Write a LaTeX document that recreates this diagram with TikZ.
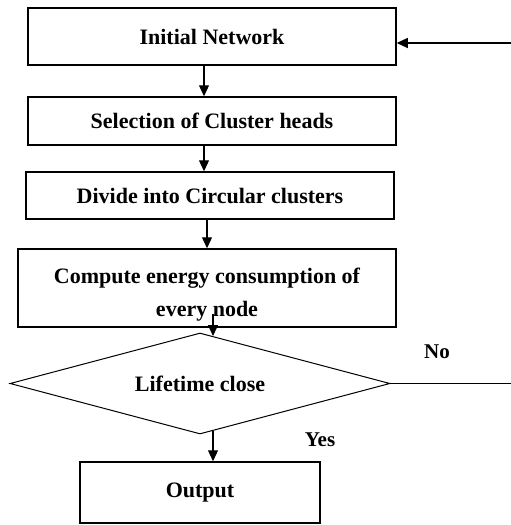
\documentclass[tikz,border=0pt]{standalone}
\usepackage{fontspec}
\setmainfont{Liberation Serif}
\usetikzlibrary{arrows.meta,calc,shapes.geometric}
\tikzset{
  stepbox/.style={draw,line width=1.5pt,inner sep=0pt,align=center,
    font=\bfseries\fontsize{22}{33}\selectfont},
  decision/.style={diamond,draw,line width=1pt,inner sep=0pt,aspect=3.8,
    font=\bfseries\fontsize{22}{25}\selectfont},
  lab/.style={font=\bfseries\fontsize{21}{25}\selectfont}
}
\begin{document}
\begin{tikzpicture}[>={Triangle[length=11pt,width=10pt]},x=1pt,y=-1pt,line width=1.2pt]
	\useasboundingbox (0,0) rectangle (511,525);
	\node[stepbox,minimum width=368pt,minimum height=57pt] (init) at (212,36.5) {Initial Network};
	\node[stepbox,minimum width=368pt,minimum height=48pt] (sel) at (212,121) {Selection of Cluster heads};
	\node[stepbox,minimum width=368pt,minimum height=47pt] (div) at (210,195.5) {Divide into Circular clusters};
	\node[stepbox,minimum width=378pt,minimum height=78pt] (comp) at (207,288)
		{\rule{0pt}{28pt}Compute energy consumption of\\every node};
	\node[decision,minimum width=380pt,minimum height=101pt] (dec) at (200,383.5) {Lifetime close};
	\node[stepbox,minimum width=240pt,minimum height=61pt] (out) at (200,492.5) {Output};
	\node[lab] (no) at (437,352) {No};
	\node[lab] (yes) at (320,440) {Yes};
	\coordinate (r1) at (513,383.5);
	\coordinate (r2) at (513,43);
	\draw[->] ([xshift=-8pt]init.south) -- ([xshift=-8pt]sel.north);
	\draw[->] ([xshift=-8pt]sel.south) -- ([xshift=-6pt]div.north);
	\draw[->] ([xshift=-3pt]div.south) -- (comp.north);
	\draw[->] ([xshift=6pt,yshift=14pt]comp.south) -- ([xshift=13pt,yshift=-3.5pt]dec.north);
	\draw[->] ([xshift=13pt,yshift=3.5pt]dec.south) -- ([xshift=13pt]out.north);
	\draw[->] (dec.east) -- (r1) -- (r2) -- ([yshift=-6.5pt]init.east);
\end{tikzpicture}
\end{document}
